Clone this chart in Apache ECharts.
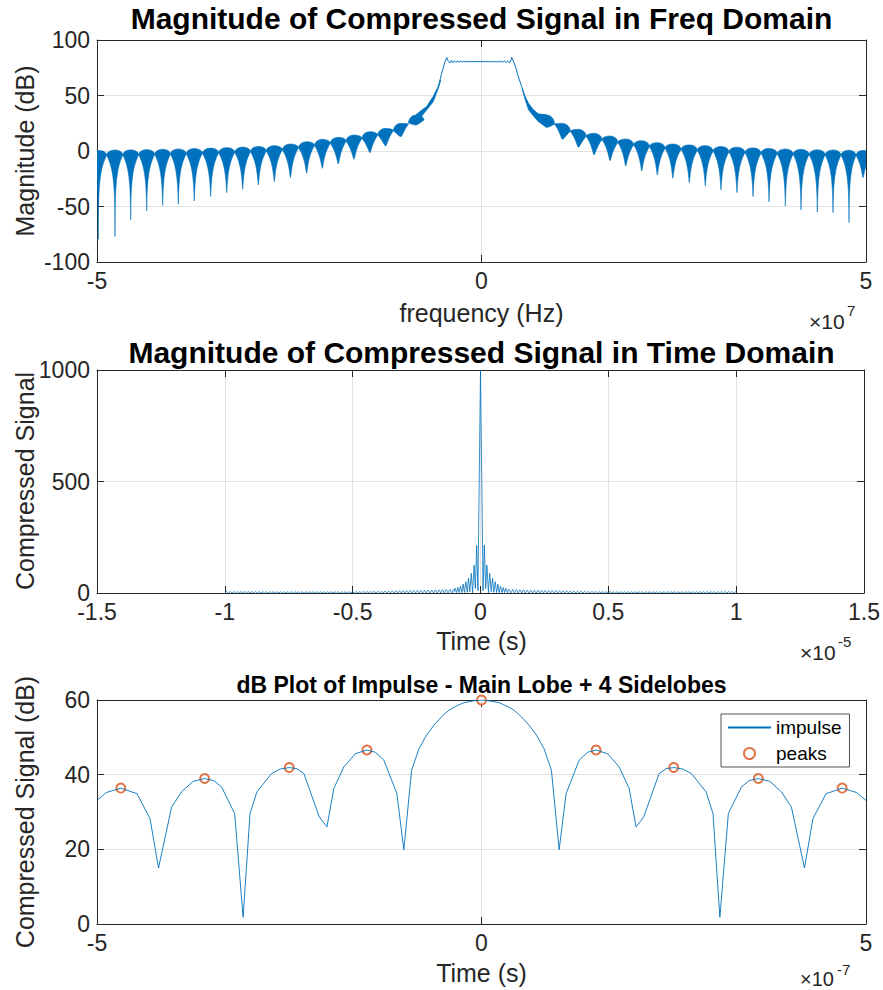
<!DOCTYPE html>
<html>
<head>
<meta charset="utf-8">
<script src="https://cdn.jsdelivr.net/npm/echarts@6/dist/echarts.min.js"></script>
<style>
html, body { margin: 0; padding: 0; background: #fff; }
#chart { width: 883px; height: 990px; }
</style>
</head>
<body>
<div id="chart"></div>
<script>
// ---------- top: spectrum (x in 1e7 Hz, y in dB) ----------
// each sidelobe: centre, bottom of its spike, top of its cap
var lobeX = [-4.983, -4.766, -4.562, -4.354, -4.146, -3.943, -3.735, -3.522, -3.313, -3.105, -2.902,
  -2.694, -2.484, -2.273, -2.070, -1.862, -1.658, -1.450, -1.246, -1.047, -0.852,
  0.848, 1.051, 1.259, 1.463, 1.671, 1.875, 2.083, 2.286, 2.488, 2.702, 2.910,
  3.114, 3.322, 3.531, 3.739, 3.951, 4.155, 4.367, 4.571, 4.779, 4.961];
var lobeTip = [-79.5, -77, -62, -54, -49, -48, -45, -41, -37.5, -34.5, -30.6,
  -27.6, -24, -20, -15.6, -11.7, -7.5, -1.5, 4.5, 12.9, 23.4,
  21.3, 10.5, 3.3, -3.6, -8.7, -13.5, -18, -21.6, -24.6, -28.5, -31.5,
  -35, -37.5, -41, -45.6, -49.5, -53, -55, -55.5, -64.5, -24];
var lobeTop = [0.5, 0.9, 1.0, 1.2, 1.5, 1.8, 2.2, 2.6, 3.0, 3.5, 4.1,
  4.8, 6.3, 8.4, 10.5, 12.3, 14.4, 17.4, 20.4, 24.9, 32.4,
  32.4, 24.9, 19.5, 15.9, 13.5, 10.8, 9.3, 7.5, 6.3, 5.5, 4.8,
  4.0, 3.4, 2.8, 2.3, 1.8, 1.4, 1.1, 0.9, 0.7, 0.5];
// passband and its skirts
var bandX = [-0.852, -0.800, -0.713, -0.627, -0.562, -0.518, -0.475, -0.453, -0.430, -0.412,
  -0.392, -0.372, -0.352, -0.332, -0.312, -0.292, -0.272, -0.252, -0.232, -0.212, -0.192, -0.172,
  -0.150, -0.100, -0.050, 0, 0.050, 0.100,
  0.120, 0.140, 0.160, 0.180, 0.200, 0.220, 0.240, 0.260, 0.280, 0.300, 0.320, 0.340, 0.358, 0.375,
  0.393, 0.436, 0.479, 0.523, 0.566, 0.609, 0.674, 0.739, 0.848];
var bandY = [32.4, 35.4, 39.9, 48.9, 57.9, 69.9, 80.4, 84.3, 80.6, 79.2,
  81.7, 79.5, 81.3, 79.8, 81.0, 80.0, 80.8, 80.2, 80.7, 80.3, 80.6, 80.4,
  80.5, 80.5, 80.5, 80.5, 80.5, 80.5,
  80.4, 80.6, 80.3, 80.7, 80.2, 80.8, 80.1, 80.9, 80.0, 81.0, 79.8, 81.3, 79.5, 80.2,
  84.3, 77.4, 66.9, 57.9, 48.9, 42.9, 36.9, 33.3, 32.4];
// filled skirts beside the passband
var skirtLX = [-0.852, -0.800, -0.713, -0.627, -0.562, -0.530];
var skirtLHi = [32.4, 35.4, 39.9, 48.9, 57.9, 64];
var skirtLLo = [24, 29.4, 36.9, 44.4, 56.4, 64];
var skirtRX = [0.530, 0.566, 0.609, 0.674, 0.739, 0.800, 0.848];
var skirtRHi = [56, 48.9, 42.9, 36.9, 33.3, 32.8, 32.4];
var skirtRLo = [56, 46.5, 37.5, 31.5, 26.4, 23.5, 21.3];

// ---------- middle: compressed pulse (x in 1e-5 s) ----------
var pulseX = [-0.105, -0.0995, -0.094, -0.089, -0.084, -0.0785, -0.073, -0.068, -0.063, -0.0575,
  -0.052, -0.047, -0.042, -0.036, -0.031, -0.025, -0.0201, -0.015, -0.010, 0,
  0.010, 0.015, 0.0201, 0.025, 0.031, 0.036, 0.042, 0.047, 0.052, 0.0575,
  0.063, 0.068, 0.073, 0.0785, 0.084, 0.089, 0.094, 0.0995, 0.105];
var pulseY = [2, 21, 2, 25, 2, 31, 2, 40, 2, 51,
  3, 66, 6, 89, 1, 125, 20, 214, 10, 1000,
  10, 214, 20, 125, 1, 89, 6, 66, 3, 51,
  2, 40, 2, 31, 2, 25, 2, 21, 2];
// height of the small ripples further out (same on both sides)
var tailX = [0.105, 0.15, 0.2, 0.25, 0.3, 0.4, 0.5, 0.6, 0.8, 1.0];
var tailAmp = [18, 15, 13, 12, 11, 8, 6, 6, 6, 7];

// ---------- bottom: dB plot (x in 1e-7 s) ----------
var dbX = [-5.00, -4.88, -4.69, -4.48, -4.31, -4.20, -4.03, -3.90, -3.75, -3.60, -3.48, -3.38,
  -3.21, -3.10, -3.01, -2.92, -2.73, -2.62, -2.50, -2.40, -2.31, -2.11, -2.01, -1.92, -1.79,
  -1.64, -1.49, -1.38, -1.27, -1.10, -1.01, -0.909, -0.812, -0.714, -0.617, -0.519, -0.422,
  -0.325, -0.227, -0.097, 0,
  0.097, 0.227, 0.325, 0.422, 0.519, 0.617, 0.714, 0.812, 0.909, 1.01, 1.10, 1.27, 1.38,
  1.49, 1.64, 1.79, 1.92, 2.01, 2.11, 2.31, 2.40, 2.50, 2.62, 2.73, 2.92, 3.01, 3.10, 3.21,
  3.38, 3.48, 3.60, 3.75, 3.90, 4.03, 4.20, 4.31, 4.48, 4.69, 4.88, 5.00];
var dbY = [33.1, 35.2, 36.4, 34.9, 28.2, 15.0, 31.3, 35.4, 38.2, 38.96, 38.4, 36.7,
  29.6, 1.8, 29.6, 35.4, 40.3, 41.5, 41.9, 41.6, 40.3, 28.7, 26.0, 36.3, 42.1,
  45.6, 46.6, 46.0, 43.9, 34.9, 19.9, 41.2, 47.0, 50.6, 53.3, 55.5, 57.3,
  58.4, 59.3, 59.8, 60,
  59.8, 59.3, 58.4, 57.3, 55.5, 53.3, 50.6, 47.0, 41.2, 19.9, 34.9, 43.9, 46.0,
  46.6, 45.6, 42.1, 36.3, 26.0, 28.7, 40.3, 41.6, 41.9, 41.5, 40.3, 35.4, 29.6, 1.8, 29.6,
  36.7, 38.4, 38.96, 38.2, 35.4, 31.3, 15.0, 28.2, 34.9, 36.4, 35.2, 33.1];
var peakX = [-4.69, -3.60, -2.50, -1.49, 0, 1.49, 2.50, 3.60, 4.69];
var peakY = [36.4, 38.96, 41.9, 46.6, 60, 46.6, 41.9, 38.96, 36.4];

var FONT = '"Liberation Sans", Arial, sans-serif';
var INK = '#262626';
var BLUE = '#0072BD';
var TICK = 23;
var LABEL = 25;

function zip(a, b) {
  return a.map(function (v, i) { return [v, b[i]]; });
}

var myChart = echarts.init(document.getElementById('chart'), null, { renderer: 'svg' });

function xAxes(g, min, max, interval) {
  var base = {
    type: 'value', gridIndex: g, min: min, max: max, interval: interval,
    axisLine: { show: true, onZero: false, lineStyle: { color: INK, width: 1 } },
    axisTick: { show: true, inside: true, length: 7, lineStyle: { color: INK } }
  };
  return [
    Object.assign({}, base, {
      position: 'bottom',
      axisLabel: { color: INK, fontSize: TICK, lineHeight: 18, fontFamily: FONT, margin: 10 },
      splitLine: { show: true, lineStyle: { color: '#e2e2e2' } }
    }),
    Object.assign({}, base, {
      position: 'top', axisLabel: { show: false }, splitLine: { show: false }
    })
  ];
}

function yAxes(g, min, max, interval) {
  var base = {
    type: 'value', gridIndex: g, min: min, max: max, interval: interval,
    axisLine: { show: true, onZero: false, lineStyle: { color: INK, width: 1 } },
    axisTick: { show: true, inside: true, length: 7, lineStyle: { color: INK } }
  };
  return [
    Object.assign({}, base, {
      position: 'left',
      axisLabel: {
        color: INK, fontSize: TICK, lineHeight: 18, fontFamily: FONT, margin: 7,
        formatter: function (v) { return String(v); }
      },
      splitLine: { show: true, lineStyle: { color: '#e2e2e2' } }
    }),
    Object.assign({}, base, {
      position: 'right', axisLabel: { show: false }, splitLine: { show: false }
    })
  ];
}

// one teardrop sidelobe of the spectrum; its cap meets the neighbours' caps
function lobeShape(params, api) {
  var i = params.dataIndex;
  var n = lobeX.length;
  var x = lobeX[i];
  var hasL = i > 0 && x - lobeX[i - 1] < 0.3;
  var hasR = i < n - 1 && lobeX[i + 1] - x < 0.3;
  var gapL = hasL ? x - lobeX[i - 1] : 0.21;
  var gapR = hasR ? lobeX[i + 1] - x : 0.21;
  var top = api.coord([x, lobeTop[i]]);
  var tip = api.coord([x, lobeTip[i]]);
  var cx = top[0];
  var wl = cx - api.coord([x - gapL / 2, 0])[0];
  var wr = api.coord([x + gapR / 2, 0])[0] - cx;
  var topL = hasL ? (top[1] + api.coord([0, lobeTop[i - 1]])[1]) / 2 : top[1];
  var topR = hasR ? (top[1] + api.coord([0, lobeTop[i + 1]])[1]) / 2 : top[1];
  var notch = 5;
  var yl = Math.min(topL + notch, tip[1] - 2);
  var yr = Math.min(topR + notch, tip[1] - 2);
  var pts = [];
  for (var k = 0; k <= 12; k++) {
    var a = Math.PI - Math.PI * k / 12;
    var dx = Math.cos(a);
    var yEnd = dx < 0 ? yl : yr;
    pts.push([cx + dx * (dx < 0 ? wl : wr), top[1] + (yEnd - top[1]) * (1 - Math.sin(a))]);
  }
  var right = [], left = [];
  var DR = tip[1] - yr, DL = tip[1] - yl;
  for (var j = 1; j <= 24; j++) {
    var dr = DR * j / 24, dl = DL * j / 24;
    right.push([cx + wr * Math.exp(-dr / 18) * Math.pow(1 - j / 24, 0.6), yr + dr]);
    left.push([cx - wl * Math.exp(-dl / 18) * Math.pow(1 - j / 24, 0.6), yl + dl]);
  }
  pts = pts.concat(right, left.reverse());
  return {
    type: 'polygon', shape: { points: pts },
    style: { fill: BLUE, stroke: BLUE, lineWidth: 0.6 }
  };
}

function skirtShape(params, api) {
  var xs = params.dataIndex === 0 ? skirtLX : skirtRX;
  var hi = params.dataIndex === 0 ? skirtLHi : skirtRHi;
  var lo = params.dataIndex === 0 ? skirtLLo : skirtRLo;
  var pts = [];
  for (var k = 0; k < xs.length; k++) pts.push(api.coord([xs[k], hi[k]]));
  for (var k2 = xs.length - 1; k2 >= 0; k2--) pts.push(api.coord([xs[k2], lo[k2]]));
  return {
    type: 'polygon', shape: { points: pts },
    style: { fill: BLUE, stroke: BLUE, lineWidth: 0.6 }
  };
}

// fine ripple of the pulse tails, height follows tailAmp
function tailShape(params, api) {
  var side = params.dataIndex === 0 ? -1 : 1;
  var y0 = api.coord([0, 0])[1];
  var env = tailX.map(function (t, k) { return api.coord([side * t, tailAmp[k]]); });
  if (side < 0) env.reverse();
  var pts = [];
  var up = false;
  var end = env[env.length - 1][0];
  for (var px = env[0][0]; px <= end; px += 1.8) {
    var k = 0;
    while (k < env.length - 2 && px > env[k + 1][0]) k++;
    var u = (px - env[k][0]) / (env[k + 1][0] - env[k][0]);
    var ye = env[k][1] + u * (env[k + 1][1] - env[k][1]);
    pts.push([px, up ? ye : y0]);
    up = !up;
  }
  return {
    type: 'polyline', shape: { points: pts },
    style: { stroke: BLUE, lineWidth: 0.7, fill: 'none' }
  };
}

function txt(x, y, text, size, opts) {
  opts = opts || {};
  return {
    type: 'text', x: x, y: y, rotation: opts.rot || 0,
    style: {
      text: text, fill: opts.color || '#000',
      font: (opts.bold ? 'bold ' : '') + size + 'px ' + FONT,
      align: opts.align || 'center', verticalAlign: 'middle'
    }
  };
}

var option = {
  animation: false,
  backgroundColor: '#fff',
  grid: [
    { left: 97, top: 40, width: 769, height: 222 },
    { left: 97, top: 370, width: 769, height: 223 },
    { left: 97, top: 700, width: 769, height: 224 }
  ],
  xAxis: [].concat(
    xAxes(0, -5, 5, 5),
    xAxes(1, -1.5, 1.5, 0.5),
    xAxes(2, -5, 5, 5)
  ),
  yAxis: [].concat(
    yAxes(0, -100, 100, 50),
    yAxes(1, 0, 1000, 500),
    yAxes(2, 0, 60, 20)
  ),
  legend: {
    data: [
      { name: 'impulse', itemStyle: { opacity: 0 } },
      { name: 'peaks' }
    ],
    orient: 'vertical',
    left: 721, top: 714,
    backgroundColor: '#fff',
    borderColor: INK, borderWidth: 0.8,
    padding: [4, 8, 4, 6],
    itemWidth: 43, itemHeight: 11, itemGap: 7,
    textStyle: { fontSize: 19, color: '#000', fontFamily: FONT }
  },
  graphic: [
    txt(481.5, 18, 'Magnitude of Compressed Signal in Freq Domain', 30, { bold: true }),
    txt(481.5, 352, 'Magnitude of Compressed Signal in Time Domain', 30, { bold: true }),
    txt(481.5, 685, 'dB Plot of Impulse - Main Lobe + 4 Sidelobes', 23, { bold: true }),
    txt(481.5, 313, 'frequency (Hz)', LABEL, { color: INK }),
    txt(481.5, 641, 'Time (s)', LABEL, { color: INK }),
    txt(481.5, 973, 'Time (s)', LABEL, { color: INK }),
    txt(25, 151, 'Magnitude (dB)', LABEL, { color: INK, rot: Math.PI / 2 }),
    txt(25, 481, 'Compressed Signal', LABEL, { color: INK, rot: Math.PI / 2 }),
    txt(25, 812, 'Compressed Signal (dB)', LABEL, { color: INK, rot: Math.PI / 2 }),
    txt(809, 321, '\u00d710', 21, { color: INK, align: 'left' }),
    txt(847, 310, '7', 15, { color: INK, align: 'left' }),
    txt(800, 652, '\u00d710', 21, { color: INK, align: 'left' }),
    txt(838, 641, '-5', 15, { color: INK, align: 'left' }),
    txt(800, 979, '\u00d710', 20, { color: INK, align: 'left' }),
    txt(837, 969, '-7', 15, { color: INK, align: 'left' })
  ],
  series: [
    {
      type: 'custom', xAxisIndex: 0, yAxisIndex: 0, clip: true,
      renderItem: lobeShape,
      encode: { x: 0, y: 1 },
      data: lobeX.map(function (x, i) { return [x, lobeTip[i], lobeTop[i]]; })
    },
    {
      type: 'custom', xAxisIndex: 0, yAxisIndex: 0, clip: true,
      renderItem: skirtShape,
      encode: { x: 0, y: 1 },
      data: [[skirtLX[0], skirtLHi[0]], [skirtRX[0], skirtRHi[0]]]
    },
    {
      type: 'line', xAxisIndex: 0, yAxisIndex: 0,
      data: zip(bandX, bandY),
      symbol: 'none', lineStyle: { color: BLUE, width: 1 }
    },
    {
      type: 'line', xAxisIndex: 2, yAxisIndex: 2,
      data: zip(pulseX, pulseY),
      symbol: 'none', lineStyle: { color: BLUE, width: 0.8 }
    },
    {
      type: 'custom', xAxisIndex: 2, yAxisIndex: 2, clip: true,
      renderItem: tailShape,
      encode: { x: 0, y: 1 },
      data: [[-tailX[0], tailAmp[0]], [tailX[0], tailAmp[0]]]
    },
    {
      name: 'impulse', type: 'line', xAxisIndex: 4, yAxisIndex: 4,
      data: zip(dbX, dbY),
      symbol: 'none', color: BLUE, lineStyle: { color: BLUE, width: 0.9 }
    },
    {
      name: 'peaks', type: 'scatter', xAxisIndex: 4, yAxisIndex: 4,
      data: zip(peakX, peakY),
      symbol: 'emptyCircle', symbolSize: 9,
      itemStyle: { color: '#D95319', borderColor: '#D95319', borderWidth: 1.3 }
    }
  ]
};

myChart.setOption(option);
</script>
</body>
</html>
